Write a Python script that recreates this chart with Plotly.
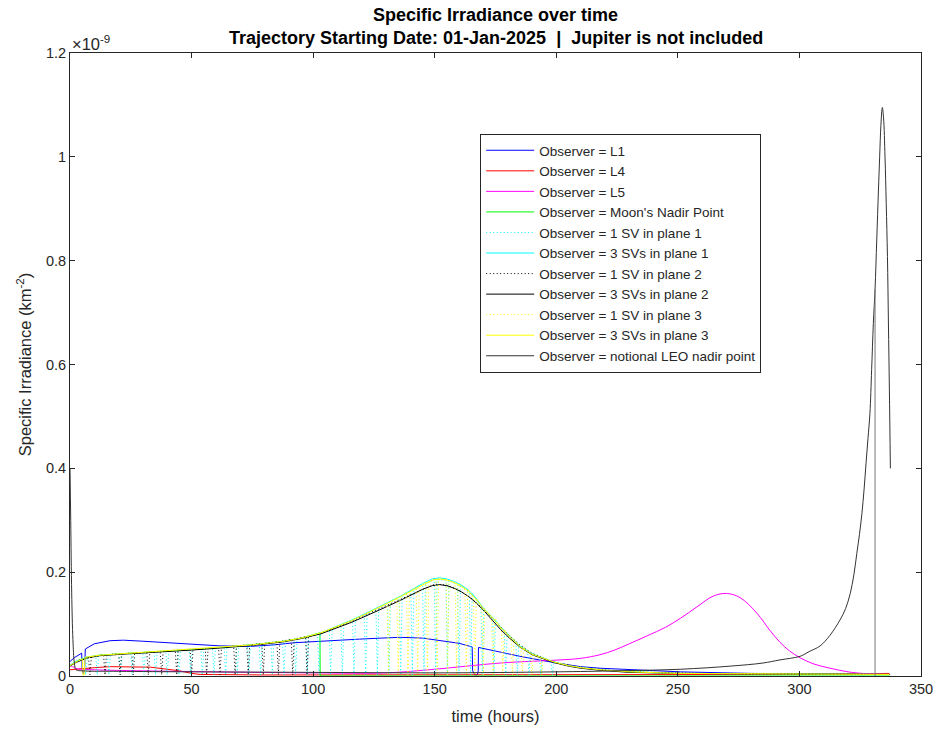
import plotly.graph_objects as go

# ---------------- data (specific irradiance in units of 1e-9 km^-2, time in hours) ----------------
# Observer = L1
l1_t = [0, 2, 4.8, 5.0, 5.5, 6.0, 6.3, 10, 16.5, 22, 30, 40, 50, 61.7, 74, 84, 92, 105, 119, 128, 135.7, 145, 152, 160,
        165.4, 165.6, 166.5, 167.5, 167.9, 168.0, 175, 185, 198.8, 210, 218, 235, 251, 280, 310, 337]
l1_v = [0.028, 0.036, 0.044, 0.012, 0.004, 0.012, 0.052, 0.062, 0.068, 0.069, 0.067, 0.064, 0.061, 0.058, 0.057, 0.060,
        0.064, 0.068, 0.071, 0.073, 0.0745, 0.073, 0.069, 0.063, 0.056, 0.010, 0.002, 0.002, 0.010, 0.055, 0.048,
        0.038, 0.026, 0.018, 0.015, 0.011, 0.008, 0.005, 0.004, 0.003]

# Observer = L4
l4_t = [0, 2, 4, 10, 16.5, 25, 33, 40, 45, 50, 53.5, 80, 150, 250, 300, 320, 337]
l4_v = [0.012, 0.013, 0.013, 0.016, 0.018, 0.018, 0.017, 0.013, 0.010, 0.005, 0.003, 0.002, 0.002, 0.002, 0.003,
        0.004, 0.005]

# Observer = L5
l5_t = [0, 1, 3, 10, 30, 60, 100, 130, 150, 177, 201.6, 210, 218, 224, 230, 237.2, 245, 251, 257.8, 264.6, 270,
        275.6, 282.5, 288, 292, 296, 300.3, 306, 312.6, 320, 326, 337]
l5_v = [0.020, 0.018, 0.014, 0.012, 0.010, 0.008, 0.006, 0.006, 0.013, 0.025, 0.031, 0.034, 0.041, 0.050, 0.062,
        0.077, 0.094, 0.111, 0.133, 0.154, 0.159, 0.151, 0.121, 0.087, 0.065, 0.048, 0.035, 0.023, 0.015, 0.008,
        0.005, 0.003]

# Observer = Moon's Nadir Point
moon_t = [0, 2, 5, 12, 25, 37, 50, 62, 75, 88, 95, 102.8, 102.9, 150, 250, 337]
moon_v = [0.020, 0.027, 0.033, 0.040, 0.044, 0.047, 0.051, 0.055, 0.060, 0.067, 0.073, 0.083, 0.0, 0.0, 0.0, 0.0]

# Three-satellite constellations (shared time base)
env_t = [0, 2, 5, 5.4, 5.8, 6.2, 12, 25, 37, 50, 62, 75, 88, 95, 103, 110, 115, 120, 125, 130, 136, 140, 145, 149,
         152, 155, 158, 161, 164, 167, 170, 174, 177, 181, 185, 190, 195, 199, 205, 210, 218, 230, 250, 280, 310, 337]
sv3_p1_v = [0.021, 0.027, 0.033, 0.033, 0.034, 0.036, 0.040, 0.044, 0.047, 0.051, 0.055, 0.060, 0.067, 0.073,
            0.083, 0.096, 0.106, 0.117, 0.128, 0.140, 0.154, 0.165, 0.178, 0.187, 0.189, 0.187, 0.182, 0.175,
            0.165, 0.150, 0.131, 0.112, 0.095, 0.076, 0.058, 0.043, 0.034, 0.027, 0.020, 0.016, 0.012, 0.008,
            0.005, 0.004, 0.003, 0.003]
sv3_p2_v = [0.019, 0.025, 0.031, 0.031, 0.032, 0.034, 0.039, 0.043, 0.046, 0.050, 0.054, 0.059, 0.066, 0.072,
            0.081, 0.093, 0.102, 0.112, 0.122, 0.133, 0.146, 0.156, 0.167, 0.174, 0.176, 0.174, 0.169, 0.162,
            0.153, 0.141, 0.127, 0.106, 0.090, 0.072, 0.056, 0.041, 0.032, 0.026, 0.019, 0.015, 0.011, 0.007,
            0.005, 0.004, 0.003, 0.003]
sv3_p3_v = [0.020, 0.026, 0.033, 0.002, 0.002, 0.036, 0.040, 0.044, 0.047, 0.051, 0.055, 0.060, 0.067, 0.073,
            0.083, 0.095, 0.105, 0.116, 0.127, 0.139, 0.153, 0.163, 0.176, 0.185, 0.187, 0.185, 0.180, 0.173,
            0.163, 0.148, 0.130, 0.111, 0.094, 0.075, 0.057, 0.042, 0.033, 0.027, 0.020, 0.016, 0.012, 0.008,
            0.005, 0.004, 0.003, 0.003]

# Single satellites: sunlit level before/after the eclipse passes, and each eclipse pass (time, level before it)
sv1_p1_head_t = [0, 3]
sv1_p1_head_v = [0.020, 0.030]
sv1_p1_dip_t = [6.5, 11.2, 16.0, 20.8, 25.6, 30.4, 35.2, 40.0, 44.8, 49.6, 54.4, 59.2, 64.0, 68.8, 73.6, 78.4,
                83.2, 88.0, 92.8, 97.6, 102.4, 107.2, 112.0, 116.8, 121.6, 126.4, 131.2, 136.0, 140.8, 145.6,
                150.4, 155.2, 160.0, 164.8, 169.6, 174.4, 179.2, 184.0, 188.8, 193.6, 198.4]
sv1_p1_dip_v = [0.036, 0.039, 0.041, 0.043, 0.044, 0.045, 0.046, 0.048, 0.049, 0.051, 0.052, 0.054, 0.056, 0.058,
                0.060, 0.062, 0.064, 0.067, 0.071, 0.076, 0.082, 0.090, 0.099, 0.109, 0.119, 0.129, 0.141, 0.152,
                0.165, 0.177, 0.186, 0.184, 0.175, 0.160, 0.131, 0.108, 0.084, 0.061, 0.046, 0.035, 0.028]
sv1_p1_tail_t = [205, 218, 250, 337]
sv1_p1_tail_v = [0.020, 0.012, 0.005, 0.003]

sv1_p2_head_t = [0, 4]
sv1_p2_head_v = [0.020, 0.031]
sv1_p2_dip_t = [8.2, 14.4, 20.6, 26.0, 32.2, 37.7, 43.9, 50.0, 56.2, 61.7, 67.9, 73.3, 79.5, 85.7, 91.6, 97.5]
sv1_p2_dip_v = [0.037, 0.041, 0.043, 0.044, 0.045, 0.047, 0.049, 0.051, 0.053, 0.055, 0.058, 0.060, 0.063, 0.066,
                0.071, 0.076]
sv1_p2_tail_t = [103, 115, 125, 136, 145, 150, 155, 160, 165, 170, 175, 180, 185, 190, 195, 200, 210, 230, 270, 337]
sv1_p2_tail_v = [0.082, 0.104, 0.125, 0.148, 0.168, 0.177, 0.175, 0.165, 0.150, 0.129, 0.105, 0.081, 0.060, 0.044,
                 0.034, 0.026, 0.016, 0.008, 0.004, 0.003]

sv1_p3_head_t = [0, 5, 12, 25, 37, 50, 62, 75, 88, 95, 103, 110, 115, 120, 125, 129]
sv1_p3_head_v = [0.020, 0.033, 0.040, 0.044, 0.047, 0.051, 0.055, 0.060, 0.067, 0.073, 0.083, 0.095, 0.105, 0.116,
                 0.127, 0.135]
sv1_p3_dip_t = [131, 135, 139, 143, 147, 151, 155.3, 159, 163, 166.5, 170, 174, 178, 182, 186, 190, 194]
sv1_p3_dip_v = [0.139, 0.151, 0.162, 0.172, 0.181, 0.186, 0.185, 0.178, 0.166, 0.150, 0.130, 0.111, 0.089, 0.070,
                0.055, 0.042, 0.034]
sv1_p3_tail_t = [199, 205, 218, 250, 337]
sv1_p3_tail_v = [0.027, 0.020, 0.012, 0.005, 0.003]

# Observer = notional LEO nadir point (smooth curve plus the drop-out sample near 331 h)
leo_t = [0, 0.3, 0.7, 1.2, 1.8, 2.5, 5, 20, 50, 100, 150, 200, 225, 251, 271.5, 285, 292, 300.3, 304, 308.5, 312.5,
         316.7, 319, 320.9, 322.4, 323.6, 324.7, 325.7, 326.6, 327.4, 328.2, 329, 329.7, 330.4, 331.1, 331.8, 332.5,
         333.0, 333.5, 334.1, 334.6, 335.2, 335.7, 336.2, 336.6, 337, 337.4]
leo_v = [0.40, 0.30, 0.16, 0.07, 0.025, 0.012, 0.010, 0.009, 0.008, 0.007, 0.006, 0.008, 0.010, 0.013, 0.019,
         0.025, 0.031, 0.038, 0.047, 0.058, 0.078, 0.108, 0.130, 0.159, 0.195, 0.236, 0.273, 0.313, 0.36, 0.41,
         0.458, 0.506, 0.59, 0.679, 0.745, 0.84, 0.936, 1.0, 1.06, 1.095, 1.075, 1.0, 0.91, 0.808, 0.68, 0.551, 0.40]
leo_drop_t = [331.1, 331.1]
leo_drop_v = [0.0, 0.745]

x_ticks = [0, 50, 100, 150, 200, 250, 300, 350]
y_ticks = [0, 0.2, 0.4, 0.6, 0.8, 1.0, 1.2]
y_tick_text = ["0", "0.2", "0.4", "0.6", "0.8", "1", "1.2"]


def eclipse_path(head_t, head_v, dip_t, dip_v, tail_t, tail_v, low=0.002, half=0.6):
    """Sunlit stretches joined by a narrow drop to the eclipse level at each pass."""
    xs, ys = list(head_t), list(head_v)
    for t, v in zip(dip_t, dip_v):
        xs += [t - half, t, t + half]
        ys += [v, low, v]
    xs += list(tail_t)
    ys += list(tail_v)
    return xs, ys


FONT = "Liberation Sans, Arial, Helvetica, sans-serif"
INK = "#262626"
DOT = "1px,2.5px"

fig = go.Figure()


def add(name, x, y, color, dash="solid", width=1, shape="linear", **kw):
    fig.add_trace(go.Scatter(x=x, y=y, mode="lines", name=name,
                             line=dict(color=color, width=width, dash=dash, shape=shape), **kw))


add("Observer = L1", l1_t, l1_v, "#0000FF")
add("Observer = L4", l4_t, l4_v, "#FF0000")
add("Observer = L5", l5_t, l5_v, "#FF00FF", shape="spline")
add("Observer = Moon's Nadir Point", moon_t, moon_v, "#00FF00")
x1, y1 = eclipse_path(sv1_p1_head_t, sv1_p1_head_v, sv1_p1_dip_t, sv1_p1_dip_v, sv1_p1_tail_t, sv1_p1_tail_v)
add("Observer = 1 SV in plane 1", x1, y1, "#00FFFF", DOT)
add("Observer = 3 SVs in plane 1", env_t, sv3_p1_v, "#00FFFF")
x2, y2 = eclipse_path(sv1_p2_head_t, sv1_p2_head_v, sv1_p2_dip_t, sv1_p2_dip_v, sv1_p2_tail_t, sv1_p2_tail_v)
add("Observer = 1 SV in plane 2", x2, y2, "#000000", DOT)
add("Observer = 3 SVs in plane 2", env_t, sv3_p2_v, "#000000")
x3, y3 = eclipse_path(sv1_p3_head_t, sv1_p3_head_v, sv1_p3_dip_t, sv1_p3_dip_v, sv1_p3_tail_t, sv1_p3_tail_v)
add("Observer = 1 SV in plane 3", x3, y3, "#FFFF00", DOT)
add("Observer = 3 SVs in plane 3", env_t, sv3_p3_v, "#FFFF00")
add("Observer = notional LEO nadir point", leo_t, leo_v, "#333333", shape="spline", legendgroup="leo")
add("Observer = notional LEO nadir point", leo_drop_t, leo_drop_v, "#777777", legendgroup="leo", showlegend=False)

axis_common = dict(
    showline=True, linecolor=INK, linewidth=1, mirror="ticks",
    ticks="inside", ticklen=5, tickwidth=1, tickcolor=INK,
    showgrid=False, zeroline=False, automargin=False,
    tickfont=dict(family=FONT, size=14.5, color=INK),
)

fig.update_layout(
    width=938, height=731,
    margin=dict(l=70, r=17, t=53, b=55, autoexpand=False),
    paper_bgcolor="white", plot_bgcolor="white",
    font=dict(family=FONT, color=INK),
    xaxis=dict(range=[0, 350], tickvals=x_ticks,
               title=dict(text="time (hours)", font=dict(family=FONT, size=16.5, color=INK), standoff=14),
               **axis_common),
    yaxis=dict(range=[0, 1.2], tickvals=y_ticks, ticktext=y_tick_text,
               title=dict(text="Specific Irradiance (km<sup>-2</sup>)",
                          font=dict(family=FONT, size=16.5, color=INK), standoff=10),
               **axis_common),
    legend=dict(
        x=0.482, y=0.870, xanchor="left", yanchor="top",
        bgcolor="white", bordercolor=INK, borderwidth=1,
        font=dict(family=FONT, size=13.5, color=INK),
        tracegroupgap=0, itemwidth=48,
    ),
    showlegend=True,
)

# two-line bold title above the axes
fig.add_annotation(text="<b>Specific Irradiance over time</b>", xref="paper", yref="paper",
                   x=0.5, y=1 + 38 / 623, xanchor="center", yanchor="middle", showarrow=False,
                   font=dict(family=FONT, size=18, color="#000000"))
fig.add_annotation(text="<b>Trajectory Starting Date: 01-Jan-2025 &nbsp;|&nbsp; Jupiter is not included</b>",
                   xref="paper", yref="paper", x=0.5, y=1 + 15 / 623, xanchor="center", yanchor="middle",
                   showarrow=False, font=dict(family=FONT, size=18, color="#000000"))

# axis exponent
fig.add_annotation(
    text="\u00d710<sup>-9</sup>", xref="paper", yref="paper", x=0.0, y=1.0,
    xanchor="left", yanchor="bottom", showarrow=False, yshift=-2,
    font=dict(family=FONT, size=16.5, color=INK),
)

fig.write_html("out.html")
